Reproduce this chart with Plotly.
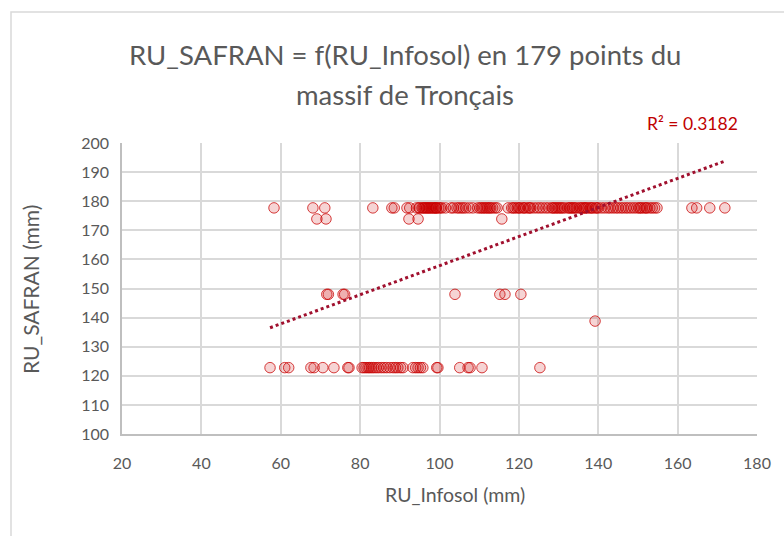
import numpy as np
import plotly.graph_objects as go

# RU_SAFRAN levels (mm) and the RU_Infosol values (mm) observed at each level
level_high = 177.7
infosol_high = [
    58.3, 68.1, 71.1, 83.2, 88.0, 88.6, 91.8, 92.5, 94.2, 95.0, 95.6, 96.2, 96.8,
    97.4, 98.0, 98.6, 99.2, 99.8, 100.6, 102.9, 104.9, 105.5, 106.0, 107.5, 110.2,
    111.0, 111.8, 112.6, 113.4, 114.5, 117.3, 118.2, 119.0, 119.6, 120.3, 121.0,
    121.7, 122.4, 123.0, 123.8, 124.6, 125.3, 126.0, 126.8, 127.5, 128.3, 129.0,
    129.8, 130.6, 131.5, 132.3, 133.0, 133.7, 134.5, 135.2, 136.0, 136.7, 137.4,
    138.0, 138.6, 139.3, 140.0, 140.8, 141.6, 142.4, 143.0, 143.7, 144.4, 145.0,
    145.7, 146.3, 147.0, 147.6, 148.3, 149.0, 149.7, 150.3, 151.0, 151.6, 152.3,
    153.0, 154.8, 163.6, 164.8, 168.1, 171.9,
    96.5, 97.1, 99.0, 111.4, 112.2, 118.6, 120.0, 121.3, 122.7, 150.6, 152.0,
    153.6, 128.6, 130.2, 131.0, 132.7, 134.1, 135.6, 137.0, 138.3, 139.6, 99.2,
    101.5, 103.5, 108.4, 110.6, 154.2, 129.4, 133.4, 136.4,
    94.8, 95.9, 97.7, 98.3, 100.2, 104.4, 106.6, 109.6, 112.9, 114.0,
]

level_174 = 173.9
infosol_174 = [69.1, 71.4, 92.3, 94.6, 115.7]

level_148 = 148.0
infosol_148 = [71.6, 72.0, 75.7, 76.1, 103.9, 115.2, 116.5, 120.5]

level_139 = 138.8
infosol_139 = [139.2]

level_low = 122.8
infosol_low = [
    57.3, 61.0, 62.0, 67.6, 68.4, 70.6, 73.4, 76.9, 77.2, 80.5, 81.0, 81.5, 82.0,
    82.4, 82.9, 83.4, 84.0, 84.6, 85.3, 86.0, 86.7, 87.5, 88.3, 88.9, 89.5, 90.2,
    90.8, 93.3, 94.0, 94.6, 95.2, 95.8, 99.3, 99.6, 105.1, 107.2, 107.7, 110.7,
    125.3,
]

x_ticks = [20, 40, 60, 80, 100, 120, 140, 160, 180]
y_ticks = [100, 110, 120, 130, 140, 150, 160, 170, 180, 190, 200]

groups = [
    (level_high, infosol_high),
    (level_174, infosol_174),
    (level_148, infosol_148),
    (level_139, infosol_139),
    (level_low, infosol_low),
]
x = np.array([v for lvl, xs in groups for v in xs])
y = np.array([lvl for lvl, xs in groups for _ in xs])

# Linear trend and coefficient of determination
slope, intercept = np.polyfit(x, y, 1)
pred = slope * x + intercept
r2 = 1 - np.sum((y - pred) ** 2) / np.sum((y - y.mean()) ** 2)
x_line = np.array([x.min(), x.max()])
y_line = slope * x_line + intercept

FONT = "Lato, sans-serif"
GREY = "#595959"

fig = go.Figure()
fig.add_trace(go.Scatter(
    x=x, y=y, mode="markers",
    marker=dict(symbol="circle", size=10.5, color="rgba(204,0,0,0.17)",
                line=dict(color="rgba(200,0,0,0.75)", width=1)),
    showlegend=False,
))
fig.add_trace(go.Scatter(
    x=x_line, y=y_line, mode="lines",
    line=dict(color="#a0102e", width=3, dash="dot"),
    showlegend=False,
))

W, H = 784, 536
L, R, T, B = 122, 27, 143, 102
pw, ph = W - L - R, H - T - B

def px_x(p):
    return (p - L) / pw

def px_y(p):
    return (H - B - p) / ph

def label(text, px, py, size, color=GREY, angle=0, xanchor="center"):
    return dict(
        text=text, xref="paper", yref="paper", x=px_x(px), y=px_y(py),
        xanchor=xanchor, yanchor="middle", showarrow=False, textangle=angle,
        font=dict(size=size, color=color, family=FONT),
    )

fig.update_layout(
    width=W, height=H,
    margin=dict(l=L, r=R, t=T, b=B),
    paper_bgcolor="white", plot_bgcolor="white",
    font=dict(family=FONT, color=GREY),
    xaxis=dict(
        range=[20, 180], tickvals=x_ticks, ticktext=[str(t) for t in x_ticks],
        showgrid=True, gridcolor="#d9d9d9", gridwidth=1.5,
        showline=True, linecolor="#bfbfbf", linewidth=1.5,
        zeroline=False, ticks="", tickfont=dict(size=16, color=GREY),
        ticklabelstandoff=14,
    ),
    yaxis=dict(
        range=[100, 200], tickvals=y_ticks, ticktext=[str(t) for t in y_ticks],
        showgrid=True, gridcolor="#d9d9d9", gridwidth=1.5,
        showline=True, linecolor="#bfbfbf", linewidth=1.5,
        zeroline=False, ticks="", tickfont=dict(size=16, color=GREY),
        ticklabelstandoff=8,
    ),
    shapes=[dict(
        type="rect", xref="paper", yref="paper",
        x0=px_x(11), x1=px_x(800), y0=px_y(560), y1=px_y(12),
        line=dict(color="#d9d9d9", width=1.5), fillcolor="rgba(0,0,0,0)",
        layer="below",
    )],
    annotations=[
        label("RU_SAFRAN = f(RU_Infosol) en 179 points du", 405, 55, 27.5),
        label("massif de Tronçais", 405, 95, 27.5),
        label("RU_Infosol (mm)", 455, 494, 19.5),
        label("RU_SAFRAN (mm)", 30, 290, 21, angle=-90),
        label(f"R² = {r2:.4f}", 740, 123, 17.5, color="#c00000", xanchor="right"),
    ],
)

fig.write_html("out.html")
